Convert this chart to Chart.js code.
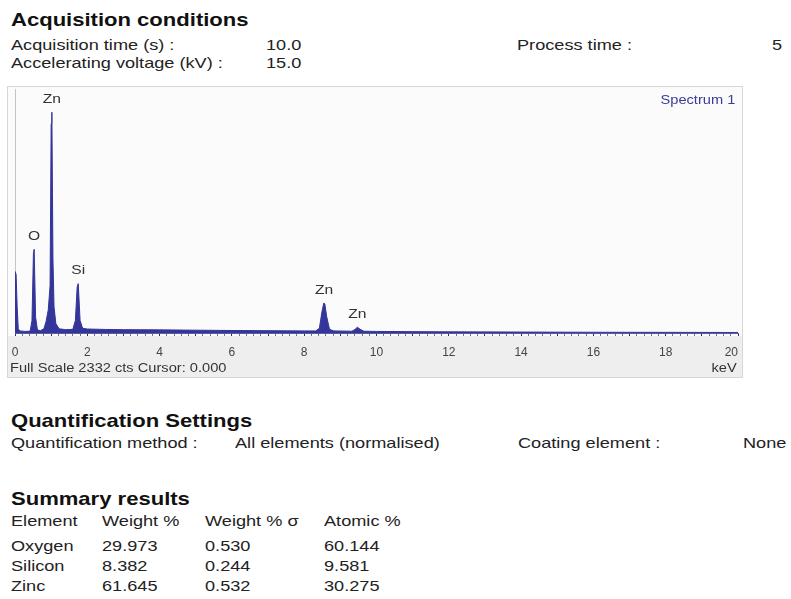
<!DOCTYPE html>
<html>
<head>
<meta charset="utf-8">
<script src="https://cdn.jsdelivr.net/npm/chart.js@4.4.1/dist/chart.umd.min.js"></script>
<style>
    body { margin: 0; background: #fff; width: 791px; height: 599px; overflow: hidden; position: relative;
           font-family: "Liberation Sans", Arial, sans-serif; color: #1e1e1e; }
    .t { position: absolute; white-space: nowrap; line-height: 1; transform-origin: left center; }
    .r { transform-origin: right center; }
    .h { font-size: 19px; font-weight: bold; transform: scaleX(1.16); color: #111; }
    .b { font-size: 15px; transform: scaleX(1.21); color: #222; }
    .s { font-size: 12px; transform: scaleX(1.22); color: #333; }
    #box { position: absolute; left: 8px; top: 87px; width: 734px; height: 290px; outline: 1px solid #d6d6d6; }
</style>
</head>
<body>
<div class="t h" style="left:11px;top:10px">Acquisition conditions</div>
<div class="t b" style="left:11px;top:37px">Acquisition time (s) :</div>
<div class="t b" style="left:266px;top:37px">10.0</div>
<div class="t b" style="left:517px;top:37px">Process time :</div>
<div class="t b" style="left:772px;top:37px">5</div>
<div class="t b" style="left:11px;top:55px">Accelerating voltage (kV) :</div>
<div class="t b" style="left:266px;top:55px">15.0</div>

<div id="box"><canvas id="chart" width="734" height="290"></canvas></div>
<div class="t s" style="left:10px;top:362px">Full Scale 2332 cts Cursor: 0.000</div>
<div class="t s r" style="right:54px;top:362px">keV</div>
<div class="t s r" style="right:56px;top:94px;color:#3a3d96">Spectrum 1</div>

<div class="t h" style="left:11px;top:411px">Quantification Settings</div>
<div class="t b" style="left:11px;top:435px">Quantification method :</div>
<div class="t b" style="left:235px;top:435px">All elements (normalised)</div>
<div class="t b" style="left:518px;top:435px">Coating element :</div>
<div class="t b" style="left:743px;top:435px">None</div>

<div class="t h" style="left:11px;top:489px">Summary results</div>
<div id="summary"></div>

<script>
// spectrum (keV / counts)
const energies = [0.00, 0.03, 0.06, 0.09, 0.13, 0.30, 0.42, 0.47, 0.51, 0.53, 0.57, 0.62,
    0.70, 0.80, 0.86, 0.92, 0.97, 1.00, 1.02, 1.05, 1.08, 1.13, 1.22, 1.40, 1.60, 1.67,
    1.72, 1.75, 1.80, 1.87, 2.00, 2.50, 3.00, 4.00, 5.00, 6.00, 7.00, 8.00, 8.32, 8.42,
    8.49, 8.54, 8.57, 8.62, 8.70, 8.82, 9.32, 9.41, 9.47, 9.55, 9.65, 10.0, 11.0, 12.0,
    14.0, 16.0, 18.0, 20.0]
const counts = [590, 560, 250, 40, 20, 15, 18, 120, 760, 800, 150, 30,
    22, 40, 110, 220, 450, 2000, 2110, 700, 250, 90, 40, 32, 35, 120,
    440, 472, 120, 45, 38, 34, 32, 30, 27, 24, 22, 20, 20, 45,
    200, 285, 280, 160, 35, 20, 17, 35, 55, 35, 17, 15, 13, 11,
    9, 7, 6, 5]

const fullScale = 2332

// peak labels
const peakNames = ['Zn', 'O', 'Si', 'Zn', 'Zn']
const peakKeV = [1.02, 0.53, 1.75, 8.55, 9.47]
const peakCounts = [2110, 800, 472, 285, 55]

// summary table
const tableHeader = ['Element', 'Weight %', 'Weight % σ', 'Atomic %']
const elements = ['Oxygen', 'Silicon', 'Zinc']
const weightPct = ['29.973', '8.382', '61.645']
const weightSigma = ['0.530', '0.244', '0.532']
const atomicPct = ['60.144', '9.581', '30.275']

function buildSummary() {
    const cols = [11, 102, 205, 324]
    const rowsTop = [513, 538, 558, 578]
    let html = ''
    tableHeader.forEach((h, c) => {
        html += `<div class="t b" style="left:${cols[c]}px;top:${rowsTop[0]}px">${h}</div>`
    })
    for (let i = 0; i < elements.length; i++) {
        const row = [elements[i], weightPct[i], weightSigma[i], atomicPct[i]]
        row.forEach((v, c) => {
            html += `<div class="t b" style="left:${cols[c]}px;top:${rowsTop[i + 1]}px">${v}</div>`
        })
    }
    document.getElementById('summary').innerHTML = html
}
buildSummary()

const navy = '#33359a'

const spectrumDeco = {
    id: 'spectrumDeco',
    beforeDraw: (chart) => {
        const { ctx, chartArea: a, width, height } = chart
        ctx.save()
        ctx.fillStyle = '#fbfbfb'
        ctx.fillRect(0, 0, width, height)
        ctx.fillStyle = '#eeeeee'
        ctx.fillRect(0, a.bottom + 3, width, height - a.bottom - 3)
        ctx.strokeStyle = '#c4c4c4'
        ctx.lineWidth = 1
        ctx.beginPath()
        ctx.moveTo(a.left + 0.5, a.top)
        ctx.lineTo(a.left + 0.5, a.bottom)
        ctx.stroke()
        ctx.restore()
    },
    afterDatasetsDraw: (chart) => {
        const { ctx, scales } = chart
        ctx.save()
        ctx.font = '13px "Liberation Sans", Arial, sans-serif'
        ctx.fillStyle = '#333'
        ctx.textAlign = 'center'
        ctx.textBaseline = 'middle'
        for (let i = 0; i < peakNames.length; i++) {
            const x = scales.x.getPixelForValue(peakKeV[i])
            const y = scales.y.getPixelForValue(peakCounts[i])
            ctx.save()
            ctx.translate(x, y - 13)
            ctx.scale(1.2, 1)
            ctx.fillText(peakNames[i], 0, 0)
            ctx.restore()
        }
        ctx.restore()
    }
}

new Chart(document.getElementById('chart').getContext('2d'), {
    type: 'line',
    data: {
        datasets: [{
            data: energies.map((e, i) => ({ x: e, y: counts[i] })),
            borderColor: navy,
            backgroundColor: navy,
            borderWidth: 1,
            pointRadius: 0,
            tension: 0,
            fill: 'origin'
        }]
    },
    options: {
        responsive: false,
        animation: false,
        layout: { padding: { left: 7, right: 4, top: 2, bottom: 0 } },
        plugins: { legend: { display: false }, tooltip: { enabled: false } },
        scales: {
            x: {
                type: 'linear',
                min: 0,
                max: 20,
                afterFit: (s) => {
                    s.height = 44
                    s.paddingLeft = 0
                    s.paddingRight = 0
                },
                border: { display: true, color: '#5a5c9a', width: 1 },
                grid: {
                    drawOnChartArea: false,
                    drawTicks: true,
                    tickLength: 3,
                    color: (c) => (Math.abs(c.tick.value - Math.round(c.tick.value)) < 1e-6 ? '#2a2a70' : '#6a6ca8')
                },
                ticks: {
                    stepSize: 0.2,
                    autoSkip: false,
                    maxRotation: 0,
                    padding: 9,
                    color: '#444',
                    font: { size: 12, family: '"Liberation Sans", Arial, sans-serif' },
                    // last label sits flush left of the final tick
                    callback: (v) => {
                        if (Math.abs(v / 2 - Math.round(v / 2)) > 1e-6) return ''
                        return Math.round(v) === 20 ? '20    ' : String(Math.round(v))
                    }
                }
            },
            y: {
                display: false,
                min: 0,
                max: fullScale
            }
        }
    },
    plugins: [spectrumDeco]
})
</script>
</body>
</html>
